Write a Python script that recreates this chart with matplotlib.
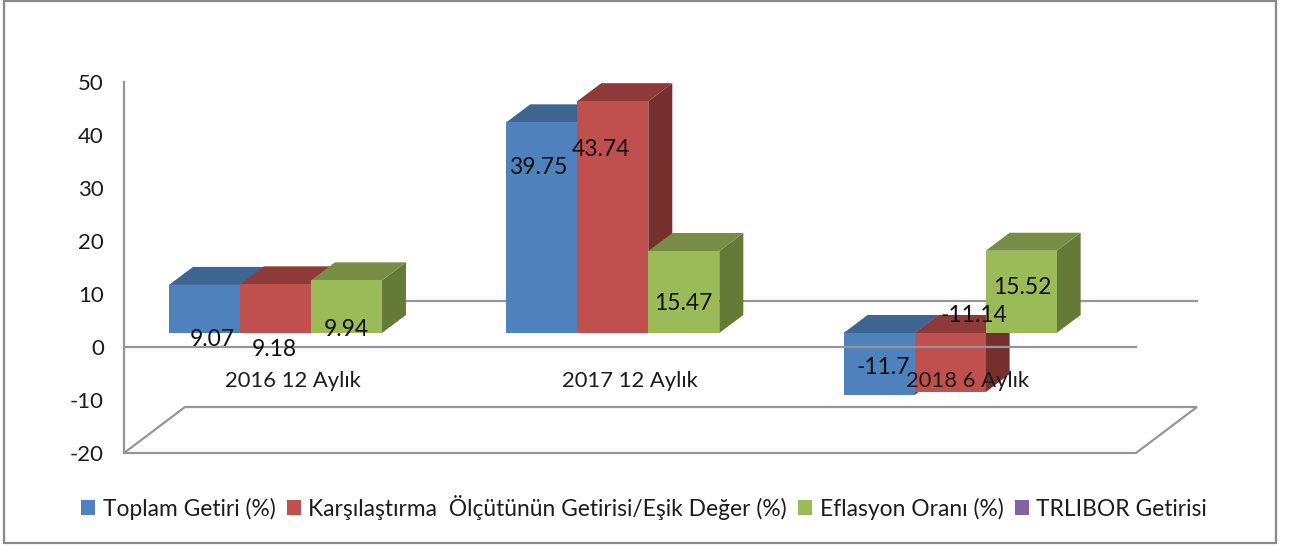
import matplotlib
matplotlib.use("Agg")
import matplotlib.pyplot as plt
from matplotlib.patches import Polygon, Patch, Rectangle

# ---------- data ----------
categories = ["2016 12 Aylık", "2017 12 Aylık", "2018 6 Aylık"]
series_names = ["Toplam Getiri (%)", "Karşılaştırma  Ölçütünün Getirisi/Eşik Değer (%)",
                "Eflasyon Oranı (%)", "TRLIBOR Getirisi"]
toplam_getiri = [9.07, 39.75, -11.7]
karsilastirma = [9.18, 43.74, -11.14]
eflasyon = [9.94, 15.47, 15.52]
trlibor = []
value_labels = [["9.07", "39.75", "-11.7"], ["9.18", "43.74", "-11.14"], ["9.94", "15.47", "15.52"]]
y_ticks = [-20, -10, 0, 10, 20, 30, 40, 50]

# ---------- style / layout ----------
W, H = 1289, 547
plt.rcParams["font.family"] = ["Lato", "DejaVu Sans"]
front = ["#4F81BD", "#C0504D", "#9BBB59", "#8064A2"]
top = ["#3C6591", "#8D3A38", "#788E44", "#624D7C"]
side = ["#33537A", "#772F2D", "#667A38", "#52406B"]
GRID = "#969696"
TXT = "#1c1c1c"
LEFT, RIGHT, TOP, BOTTOM = 124, 1197, 82, 453      # axes box in pixels
PX_CAT = 337.3                                      # pixels per category
PX_UNIT = (BOTTOM - TOP) / 70.0                     # pixels per value unit
BAR_W = 71 / PX_CAT
BAR_START = (169 - 292.7) / PX_CAT
BASE = 14 / PX_UNIT                                 # bars float above the front zero line
BAR_DX, BAR_DY = 24 / PX_CAT, 18 / PX_UNIT          # bar depth
WALL_DX, WALL_DY = 61 / PX_CAT, 46 / PX_UNIT        # chart depth
# label offsets from the bar's front-left/base corner, in pixels (dx, dy up)
label_off = [[(43, -7), (32, 165), (40, -35)],
             [(34, -17), (24, 184), (59, 18)],
             [(35, 4), (35, 29), (37, 46)]]

fig = plt.figure(figsize=(W / 100, H / 100), dpi=100, facecolor="white")
fig.add_artist(Rectangle((4 / W, 1 - 543 / H), 1272 / W, 542 / H, transform=fig.transFigure,
                         fill=False, ec="#8a8a8a", lw=1.6))
ax = fig.add_axes([LEFT / W, 1 - BOTTOM / H, (RIGHT - LEFT) / W, (BOTTOM - TOP) / H])
ax.set_xlim(-0.5, 2.5 + WALL_DX)
ax.set_ylim(-20, 50)
ax.patch.set_alpha(0)
ax.set_axisbelow(False)
for s in ["top", "right", "bottom"]:
    ax.spines[s].set_visible(False)
ax.spines["left"].set_color(GRID)
ax.spines["left"].set_linewidth(1.6)

# floor and zero lines
ax.add_patch(Polygon([(-0.5, -20), (2.5, -20), (2.5 + WALL_DX, -20 + WALL_DY), (-0.5 + WALL_DX, -20 + WALL_DY)],
                     closed=True, fill=False, ec=GRID, lw=1.6, zorder=1, clip_on=False))
ax.plot([-0.5 + WALL_DX, 2.5 + WALL_DX], [WALL_DY, WALL_DY], color=GRID, lw=1.6, zorder=1, clip_on=False)

# bars
series = [toplam_getiri, karsilastirma, eflasyon, trlibor]
z = 2.0
for j in range(len(categories)):
    for i, vals in enumerate(series):
        if not vals:
            continue
        v = vals[j]
        x0 = j + BAR_START + i * BAR_W
        x1 = x0 + BAR_W
        y0, y1 = BASE, BASE + v
        hi = max(y0, y1)
        ax.add_patch(Polygon([(x1, y0), (x1 + BAR_DX, y0 + BAR_DY), (x1 + BAR_DX, y1 + BAR_DY), (x1, y1)],
                             closed=True, fc=side[i], ec="none", zorder=z, clip_on=False))
        ax.add_patch(Polygon([(x0, hi), (x1, hi), (x1 + BAR_DX, hi + BAR_DY), (x0 + BAR_DX, hi + BAR_DY)],
                             closed=True, fc=top[i], ec="none", zorder=z + 0.001, clip_on=False))
        ax.add_patch(Polygon([(x0, y0), (x1, y0), (x1, y1), (x0, y1)],
                             closed=True, fc=front[i], ec="none", zorder=z + 0.002, clip_on=False))
        z += 0.01

# front zero line passes over the bars
ax.plot([-0.5, 2.5], [0, 0], color=GRID, lw=1.6, zorder=3, clip_on=False)

# value labels
for i, vals in enumerate(series[:3]):
    for j, v in enumerate(vals):
        x0 = j + BAR_START + i * BAR_W
        dx, dy = label_off[i][j]
        ax.annotate(value_labels[i][j], xy=(x0, BASE), xytext=(dx * 0.72, dy * 0.72),
                    textcoords="offset points", ha="center", va="center",
                    fontsize=16.5, color="#111111", zorder=6, annotation_clip=False)

# axis ticks
ax.set_yticks(y_ticks)
ax.set_yticklabels([str(t) for t in y_ticks], fontsize=16, color=TXT)
ax.tick_params(axis="y", length=0, pad=14.5)
ax.set_xticks(range(len(categories)))
ax.set_xticklabels(categories, fontsize=15.8, color=TXT)
ax.tick_params(axis="x", length=0, pad=-59.3)

# legend
handles = [Patch(fc=c, ec="none", label=n) for c, n in zip(front, series_names)]
fig.legend(handles=handles, loc="center", bbox_to_anchor=(644 / W, 1 - 507 / H), ncol=4, frameon=False,
           fontsize=16.4, handlelength=0.62, handleheight=0.62, handletextpad=0.32, columnspacing=0.5,
           borderpad=0, borderaxespad=0, labelcolor=TXT)

fig.savefig("out.png", dpi=100)
